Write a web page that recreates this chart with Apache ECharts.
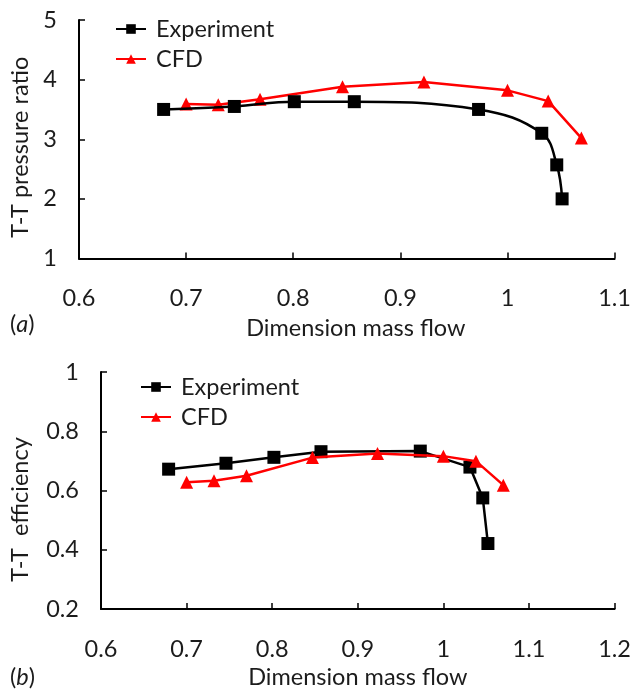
<!DOCTYPE html>
<html>
<head>
<meta charset="utf-8">
<script src="https://cdn.jsdelivr.net/npm/echarts@6/dist/echarts.min.js"></script>
<style>html,body{margin:0;padding:0;background:#fff}#c{width:634px;height:690px}</style>
</head>
<body>
<div id="c"></div>
<script>
// (a) T-T pressure ratio
const expFlowA = [0.679, 0.745, 0.801, 0.857, 0.973, 1.032, 1.046, 1.051];
const expPrA   = [3.50, 3.55, 3.63, 3.63, 3.50, 3.10, 2.57, 2.00];
const cfdFlowA = [0.700, 0.730, 0.769, 0.846, 0.922, 1.000, 1.038, 1.069];
const cfdPrA   = [3.59, 3.58, 3.67, 3.88, 3.96, 3.82, 3.64, 3.02];
// (b) T-T efficiency
const expFlowB = [0.679, 0.746, 0.802, 0.857, 0.973, 1.031, 1.046, 1.052];
const expEffB  = [0.672, 0.692, 0.712, 0.731, 0.733, 0.679, 0.575, 0.421];
const cfdFlowB = [0.700, 0.732, 0.770, 0.847, 0.923, 1.000, 1.038, 1.070];
const cfdEffB  = [0.628, 0.633, 0.650, 0.711, 0.725, 0.716, 0.699, 0.618];
const seriesNames = ['Experiment', 'CFD'];
const xTitle = 'Dimension mass flow';
const yTitleA = 'T-T pressure ratio';
const yTitleB = 'T-T  efficiency';

const zip = (xs, ys) => xs.map((x, i) => [x, ys[i]]);
const FONT = 'Lato';
const FS = 23.5;
const TXT = '#1c1c1c';
const axisCommon = {
  axisLine: { show: true, lineStyle: { color: '#000', width: 2 } },
  axisTick: { show: true, inside: true, length: 6, lineStyle: { color: '#000', width: 1.5 } },
  splitLine: { show: false },
  axisLabel: { color: TXT, fontFamily: FONT, fontSize: FS, formatter: v => String(+v.toFixed(2)) },
  nameTextStyle: { color: TXT, fontFamily: FONT, fontSize: FS }
};
function xAxis(gi, min, max, padLeft, gap) {
  return Object.assign({}, axisCommon, {
    type: 'value', gridIndex: gi, min: min, max: max, interval: 0.1,
    name: xTitle, nameLocation: 'middle', nameGap: gap,
    axisLabel: Object.assign({}, axisCommon.axisLabel, { margin: 28 }),
    nameTextStyle: Object.assign({}, axisCommon.nameTextStyle, { padding: [0, 0, 0, padLeft] })
  });
}
function yAxis(gi, min, max, interval, name, gap, padRight) {
  return Object.assign({}, axisCommon, {
    type: 'value', gridIndex: gi, min: min, max: max, interval: interval,
    name: name, nameLocation: 'middle', nameGap: gap,
    axisLabel: Object.assign({}, axisCommon.axisLabel, { margin: 22 }),
    nameTextStyle: Object.assign({}, axisCommon.nameTextStyle, { padding: [0, padRight, 0, 0] })
  });
}
const expStyle = { color: '#000' };
const cfdStyle = { color: '#ff0000' };
function legend(left, top) {
  return {
    left: left, top: top, orient: 'vertical', itemWidth: 30, itemHeight: 12, itemGap: 6,
    data: seriesNames,
    textStyle: { color: TXT, fontFamily: FONT, fontSize: FS, padding: [0, 0, 0, 5] }
  };
}
const option = {
  animation: false,
  backgroundColor: '#fff',
  grid: [
    { left: 79, top: 20, width: 538, height: 238.5 },
    { left: 101, top: 372, width: 516, height: 237.5 }
  ],
  xAxis: [xAxis(0, 0.6, 1.1, 18, 58), xAxis(1, 0.6, 1.2, 0, 56)],
  yAxis: [yAxis(0, 1, 5, 1, yTitleA, 47, 16), yAxis(1, 0.2, 1, 0.2, yTitleB, 69, 38)],
  legend: [legend(110, 12), legend(135, 370)],
  series: [
    { name: seriesNames[0], type: 'line', xAxisIndex: 0, yAxisIndex: 0, data: zip(expFlowA, expPrA),
      smooth: 0.4, symbol: 'rect', symbolSize: 13, itemStyle: expStyle, lineStyle: { color: '#000', width: 2.5 }, z: 3 },
    { name: seriesNames[1], type: 'line', xAxisIndex: 0, yAxisIndex: 0, data: zip(cfdFlowA, cfdPrA),
      symbol: 'triangle', symbolSize: 13, itemStyle: cfdStyle, lineStyle: { color: '#ff0000', width: 2.5 }, z: 2 },
    { name: seriesNames[0], type: 'line', xAxisIndex: 1, yAxisIndex: 1, data: zip(expFlowB, expEffB),
      symbol: 'rect', symbolSize: 13, itemStyle: expStyle, lineStyle: { color: '#000', width: 2.5 }, z: 2 },
    { name: seriesNames[1], type: 'line', xAxisIndex: 1, yAxisIndex: 1, data: zip(cfdFlowB, cfdEffB),
      symbol: 'triangle', symbolSize: 13, itemStyle: cfdStyle, lineStyle: { color: '#ff0000', width: 2.5 }, z: 3 }
  ],
  graphic: [
    { type: 'text', left: 10, top: 312, style: { text: '({i|a})', fill: TXT, font: FS + 'px Lato',
      rich: { i: { fontStyle: 'italic', fontFamily: FONT, fontSize: FS, fill: TXT } } } },
    { type: 'text', left: 10, top: 665, style: { text: '({i|b})', fill: TXT, font: FS + 'px Lato',
      rich: { i: { fontStyle: 'italic', fontFamily: FONT, fontSize: FS, fill: TXT } } } }
  ]
};
const chart = echarts.init(document.getElementById('c'), null, { renderer: 'canvas' });
chart.setOption(option);
</script>
</body>
</html>
